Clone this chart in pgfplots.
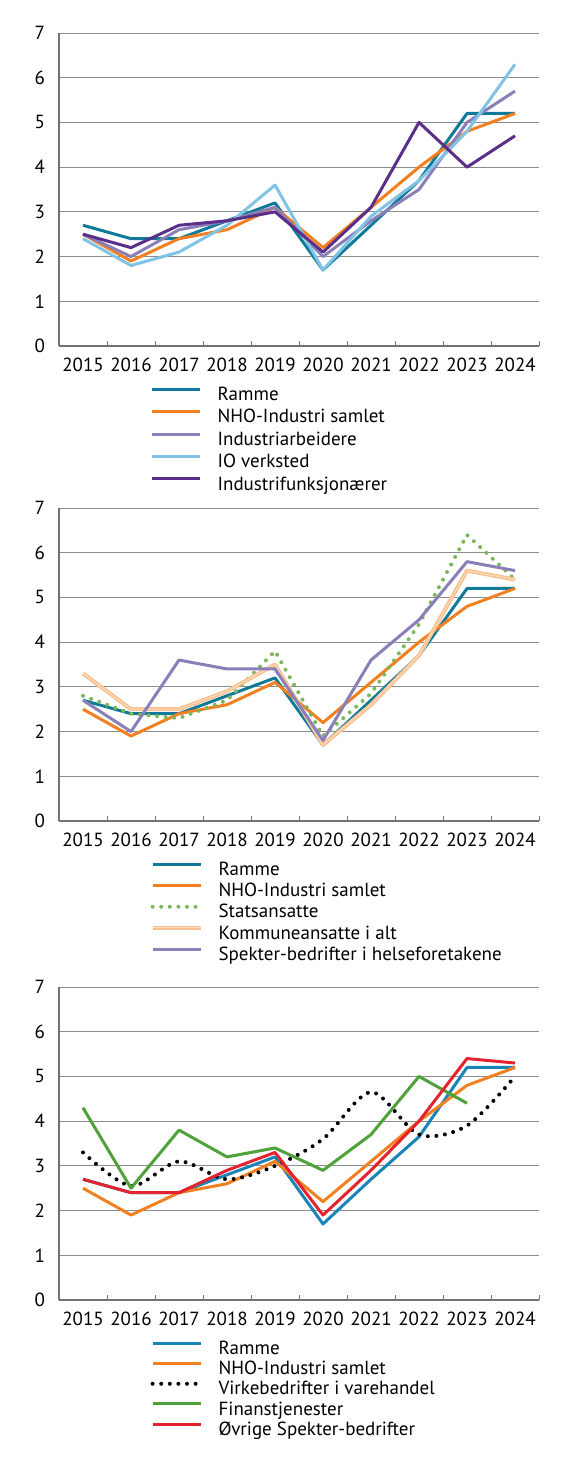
\documentclass[border=0pt]{standalone}
\usepackage{fontspec}
\setmainfont{PT Sans}
\usepackage{pgfplots}
\pgfplotsset{compat=1.18}

\definecolor{ramme}{HTML}{117A99}
\definecolor{rammeb}{HTML}{1A84B8}
\definecolor{nho}{HTML}{F28021}
\definecolor{lav}{HTML}{8B7FB9}
\definecolor{iob}{HTML}{80C3E5}
\definecolor{funk}{HTML}{5A2F8A}
\definecolor{stats}{HTML}{7DB75B}
\definecolor{komm}{HTML}{F9C08F}
\definecolor{kommlys}{HTML}{FDDDBE}
\definecolor{finans}{HTML}{4FA23A}
\definecolor{ovr}{HTML}{E3232F}

\pgfplotsset{
  panel/.style={
    scale only axis,
    width=240pt, height=156.5pt,
    anchor=south west,
    xmin=-0.5, xmax=9.5, ymin=0, ymax=7,
    xtick={0,...,9},
    xticklabels={2015,2016,2017,2018,2019,2020,2021,2022,2023,2024},
    minor xtick={-0.5,0.5,...,9.5},
    ytick={0,...,7},
    major tick length=0pt,
    minor tick length=2.5pt,
    tick align=inside,
    xtick pos=left, ytick pos=left,
    axis x line*=bottom, axis y line*=left,
    axis line style={-, draw=black!55, line width=0.6pt},
    minor tick style={draw=black!55, line width=0.5pt},
    ymajorgrids,
    major grid style={draw=black!45, line width=0.5pt},
    tick label style={font=\fontsize{9.5}{11}\selectfont},
    /pgf/number format/assume math mode=true,
    xticklabel style={yshift=-2.5pt},
    yticklabel style={xshift=-3.5pt},
    legend cell align=left,
    legend style={draw=none, fill=none, inner sep=0pt,
      at={(axis description cs:0.19,-0.1284)}, anchor=north west,
      font=\fontsize{9.5}{11}\selectfont,
      nodes={inner sep=0pt, text height=7pt, text depth=2pt},
      column sep=8pt},
    legend image code/.code={\draw[##1] (0pt,3.1pt) -- (24pt,3.1pt);},
    every axis plot/.append style={line width=1.5pt, line join=round},
  },
  dots/.style={line width=2pt, line cap=round, dash pattern=on 0pt off 4.3pt},
}

\begin{document}
\begin{tikzpicture}
\useasboundingbox (0,0) rectangle (288pt,730.5pt);

% panel 1
\begin{axis}[panel, at={(29.5pt,557.5pt)}, legend style={row sep=2.2pt}]
\addplot[ramme] coordinates {(0,2.7) (1,2.4) (2,2.4) (3,2.8) (4,3.2) (5,1.7) (6,2.7) (7,3.7) (8,5.2) (9,5.2)};
\addlegendentry{Ramme}
\addplot[nho] coordinates {(0,2.5) (1,1.9) (2,2.4) (3,2.6) (4,3.1) (5,2.2) (6,3.1) (7,4.0) (8,4.8) (9,5.2)};
\addlegendentry{NHO-Industri samlet}
\addplot[lav] coordinates {(0,2.5) (1,2.0) (2,2.6) (3,2.8) (4,3.1) (5,2.0) (6,2.8) (7,3.5) (8,5.0) (9,5.7)};
\addlegendentry{Industriarbeidere}
\addplot[iob] coordinates {(0,2.4) (1,1.8) (2,2.1) (3,2.7) (4,3.6) (5,1.7) (6,2.9) (7,3.7) (8,4.8) (9,6.3)};
\addlegendentry{IO verksted}
\addplot[funk] coordinates {(0,2.5) (1,2.2) (2,2.7) (3,2.8) (4,3.0) (5,2.1) (6,3.1) (7,5.0) (8,4.0) (9,4.7)};
\addlegendentry{Industrifunksjonærer}
\end{axis}

% panel 2
\begin{axis}[panel, at={(29.5pt,320pt)}, legend style={row sep=1.6pt}]
\addplot[ramme] coordinates {(0,2.7) (1,2.4) (2,2.4) (3,2.8) (4,3.2) (5,1.7) (6,2.7) (7,3.7) (8,5.2) (9,5.2)};
\addlegendentry{Ramme}
\addplot[nho] coordinates {(0,2.5) (1,1.9) (2,2.4) (3,2.6) (4,3.1) (5,2.2) (6,3.1) (7,4.0) (8,4.8) (9,5.2)};
\addlegendentry{NHO-Industri samlet}
\addplot[stats, dots] coordinates {(0,2.8) (1,2.4) (2,2.3) (3,2.7) (4,3.8) (5,1.9) (6,2.85) (7,4.4) (8,6.4) (9,5.4)};
\addlegendentry{Statsansatte}
\addplot[komm, line width=0.75pt, double=kommlys, double distance=0.5pt] coordinates {(0,3.3) (1,2.5) (2,2.5) (3,2.9) (4,3.5) (5,1.7) (6,2.6) (7,3.7) (8,5.6) (9,5.4)};
\addlegendentry{Kommuneansatte i alt}
\addplot[lav] coordinates {(0,2.7) (1,2.0) (2,3.6) (3,3.4) (4,3.4) (5,1.8) (6,3.6) (7,4.5) (8,5.8) (9,5.6)};
\addlegendentry{Spekter-bedrifter i helseforetakene}
\end{axis}

% panel 3
\begin{axis}[panel, at={(29.5pt,80.5pt)}, legend style={row sep=1.1pt}]
\addplot[rammeb] coordinates {(0,2.7) (1,2.4) (2,2.4) (3,2.8) (4,3.2) (5,1.7) (6,2.7) (7,3.65) (8,5.2) (9,5.2)};
\addlegendentry{Ramme}
\addplot[nho] coordinates {(0,2.5) (1,1.9) (2,2.4) (3,2.6) (4,3.1) (5,2.2) (6,3.1) (7,4.0) (8,4.8) (9,5.2)};
\addlegendentry{NHO-Industri samlet}
\addplot[black, dots, smooth] coordinates {(0,3.3) (1,2.55) (2,3.1) (3,2.7) (4,3.0) (5,3.6) (6,4.65) (7,3.7) (8,3.9) (9,5.0)};
\addlegendentry{Virkebedrifter i varehandel}
\addplot[finans] coordinates {(0,4.3) (1,2.5) (2,3.8) (3,3.2) (4,3.4) (5,2.9) (6,3.7) (7,5.0) (8,4.4)};
\addlegendentry{Finanstjenester}
\addplot[ovr] coordinates {(0,2.7) (1,2.4) (2,2.4) (3,2.9) (4,3.3) (5,1.9) (6,2.9) (7,4.0) (8,5.4) (9,5.3)};
\addlegendentry{Øvrige Spekter-bedrifter}
\end{axis}
\end{tikzpicture}
\end{document}
